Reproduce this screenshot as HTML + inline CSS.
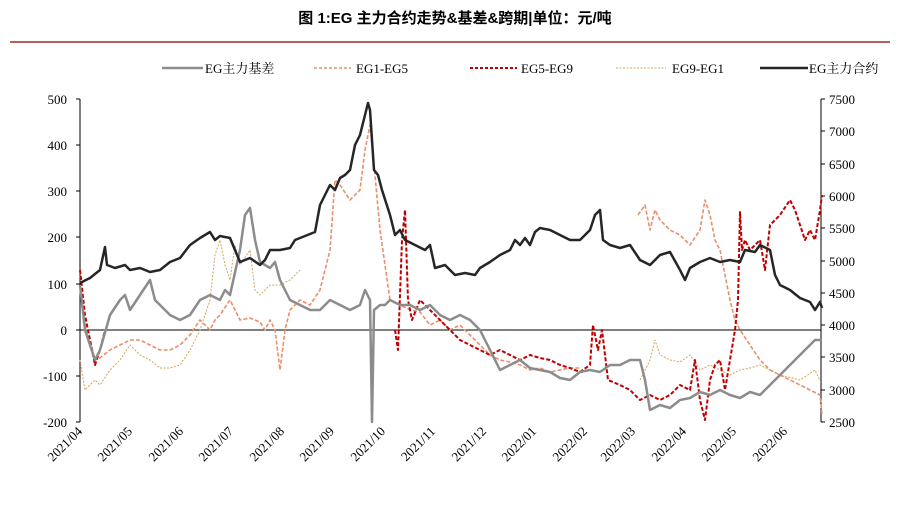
<!DOCTYPE html>
<html><head><meta charset="utf-8"><style>
body{margin:0;background:#fff;width:913px;height:500px;overflow:hidden}
text{font-family:"Liberation Serif","Noto Serif CJK SC",serif;font-size:13px;fill:#000}
</style></head><body>
<svg width="913" height="500" viewBox="0 0 913 500">
<text x="455" y="23" text-anchor="middle" style="font-family:'Liberation Sans','Noto Sans CJK SC',sans-serif;font-weight:bold;font-size:15px">图 1:EG 主力合约走势&amp;基差&amp;跨期|单位：元/吨</text>
<line x1="10" y1="42" x2="890" y2="42" stroke="#b5615e" stroke-width="2"/>
<!-- legend -->
<line x1="162" y1="68" x2="203" y2="68" stroke="#8c8c8c" stroke-width="2.5"/><text x="205" y="73">EG主力基差</text>
<line x1="314" y1="68" x2="351" y2="68" stroke="#e8906b" stroke-width="1.5" stroke-dasharray="3,2"/><text x="356" y="73">EG1-EG5</text>
<line x1="470" y1="68" x2="517" y2="68" stroke="#c00000" stroke-width="2" stroke-dasharray="3,2"/><text x="521" y="73">EG5-EG9</text>
<line x1="616" y1="68" x2="666" y2="68" stroke="#d4a55a" stroke-width="1" stroke-dasharray="2,1.5"/><text x="672" y="73">EG9-EG1</text>
<line x1="760" y1="68" x2="808" y2="68" stroke="#262626" stroke-width="2.5"/><text x="809" y="73">EG主力合约</text>
<!-- axes -->
<g stroke="#000" stroke-width="1" fill="none">
<line x1="80" y1="99" x2="80" y2="422"/>
<line x1="76" y1="99" x2="80" y2="99"/><line x1="76" y1="145" x2="80" y2="145"/><line x1="76" y1="191" x2="80" y2="191"/><line x1="76" y1="237" x2="80" y2="237"/><line x1="76" y1="284" x2="80" y2="284"/><line x1="76" y1="330" x2="80" y2="330"/><line x1="76" y1="376" x2="80" y2="376"/><line x1="76" y1="422" x2="80" y2="422"/>
<line x1="821" y1="99" x2="821" y2="422"/>
<line x1="821" y1="99" x2="825" y2="99"/><line x1="821" y1="131" x2="825" y2="131"/><line x1="821" y1="164" x2="825" y2="164"/><line x1="821" y1="196" x2="825" y2="196"/><line x1="821" y1="228" x2="825" y2="228"/><line x1="821" y1="261" x2="825" y2="261"/><line x1="821" y1="293" x2="825" y2="293"/><line x1="821" y1="325" x2="825" y2="325"/><line x1="821" y1="357" x2="825" y2="357"/><line x1="821" y1="390" x2="825" y2="390"/><line x1="821" y1="422" x2="825" y2="422"/>
<line x1="80" y1="330" x2="821" y2="330"/>
</g>
<g text-anchor="end">
<text x="67" y="104">500</text><text x="67" y="150">400</text><text x="67" y="196">300</text><text x="67" y="242">200</text><text x="67" y="289">100</text><text x="67" y="335">0</text><text x="67" y="381">-100</text><text x="67" y="427">-200</text>
</g>
<g>
<text x="829" y="104">7500</text><text x="829" y="136">7000</text><text x="829" y="169">6500</text><text x="829" y="201">6000</text><text x="829" y="233">5500</text><text x="829" y="266">5000</text><text x="829" y="298">4500</text><text x="829" y="330">4000</text><text x="829" y="362">3500</text><text x="829" y="395">3000</text><text x="829" y="427">2500</text>
</g>
<!-- x labels -->
<g text-anchor="end">
<text transform="translate(83,432) rotate(-45)">2021/04</text>
<text transform="translate(133,432) rotate(-45)">2021/05</text>
<text transform="translate(184,432) rotate(-45)">2021/06</text>
<text transform="translate(234,432) rotate(-45)">2021/07</text>
<text transform="translate(285,432) rotate(-45)">2021/08</text>
<text transform="translate(335,432) rotate(-45)">2021/09</text>
<text transform="translate(386,432) rotate(-45)">2021/10</text>
<text transform="translate(436,432) rotate(-45)">2021/11</text>
<text transform="translate(487,432) rotate(-45)">2021/12</text>
<text transform="translate(537,432) rotate(-45)">2022/01</text>
<text transform="translate(588,432) rotate(-45)">2022/02</text>
<text transform="translate(636,432) rotate(-45)">2022/03</text>
<text transform="translate(687,432) rotate(-45)">2022/04</text>
<text transform="translate(737,432) rotate(-45)">2022/05</text>
<text transform="translate(788,432) rotate(-45)">2022/06</text>
</g>
<g fill="none" stroke-linejoin="round">
<polyline stroke="#d4a55a" stroke-width="1" stroke-dasharray="2,1.5" points="80,360 85,390 95,380 100,385 110,370 120,360 130,345 140,355 150,360 160,368 170,368 180,365 190,350 200,330 210,300 215,255 220,240 225,265 230,280 235,245 240,265 250,250 255,290 260,295 270,285 280,285 290,280 300,270"/>
<polyline stroke="#d4a55a" stroke-width="1" stroke-dasharray="2,1.5" points="640,380 650,360 655,340 660,355 670,360 680,362 690,355 700,370 710,365 720,370 730,375 740,370 750,368 760,365 770,370 780,375 800,380 815,370 822,385"/>
<polyline stroke="#e8906b" stroke-width="1.6" stroke-dasharray="4,2" points="80,270 85,320 95,360 100,358 110,350 120,345 130,340 140,340 150,345 160,350 170,350 180,345 190,335 200,320 210,330 215,320 220,315 230,300 240,320 250,318 260,322 265,330 270,320 275,330 280,370 285,330 290,310 300,300 310,305 320,290 330,250 335,180 340,185 350,200 360,190 365,150 370,125 375,175 380,230 385,265 390,300 400,305 410,310 420,312 430,325 440,320 450,330 460,325 470,335 480,345 490,355 500,360 510,362 520,365 530,370 540,368 550,372 560,370 570,368 580,368"/>
<polyline stroke="#e8906b" stroke-width="1.6" stroke-dasharray="4,2" points="638,215 645,205 650,230 655,210 660,220 670,230 680,235 690,245 700,230 705,200 710,215 715,240 720,250 730,300 735,320 740,330 750,345 760,360 770,370 780,375 790,380 800,385 810,390 820,395 822,415"/>
<polyline stroke="#c00000" stroke-width="2" stroke-dasharray="4,2" points="80,270 85,315 90,340 95,365 100,350 105,330"/>
<polyline stroke="#c00000" stroke-width="2" stroke-dasharray="4,2" points="395,330 398,350 402,240 405,210 408,300 412,320 420,300 430,310 440,320 450,330 460,340 470,345 480,350 490,355 500,350 510,355 520,360 530,355 540,358 550,360 560,365 570,368 580,372 590,365 593,325 598,350 602,330 608,380 620,385 630,390 640,400 650,395 660,400 670,395 680,385 690,390 695,360 700,400 705,420 710,380 715,365 720,360 725,390 730,360 735,330 738,300 740,212 742,250 745,240 750,250 760,240 765,270 770,225 775,220 780,215 790,200 795,210 800,225 805,240 810,230 815,240 820,210 822,195"/>
<polyline stroke="#8c8c8c" stroke-width="2.5" points="80,285 85,330 95,360 100,350 110,315 120,300 125,295 130,310 140,295 150,280 155,300 160,305 170,315 180,320 190,315 200,300 210,295 220,300 225,290 230,295 240,250 245,215 250,208 255,240 260,262 270,268 275,262 280,280 290,300 300,305 310,310 320,310 330,300 340,305 350,310 360,305 365,290 370,300 372,422 374,310 380,305 385,305 390,300 400,305 410,305 420,310 430,305 440,315 450,320 460,315 470,320 480,330 490,350 500,370 510,365 520,360 530,368 540,370 550,372 560,378 570,380 580,372 590,370 600,372 610,365 620,365 630,360 640,360 645,380 650,410 660,405 670,408 680,400 690,398 700,392 710,395 720,390 730,395 740,398 750,392 760,395 770,385 780,375 790,365 800,355 810,345 815,340 822,340"/>
<polyline stroke="#262626" stroke-width="2.5" points="80,283 90,278 100,270 105,247 107,265 115,268 125,265 130,270 140,268 150,272 160,270 170,262 180,258 190,245 200,238 210,232 215,240 220,236 230,238 235,250 240,262 250,258 260,265 265,260 270,250 280,250 290,248 295,240 305,236 315,232 320,205 325,195 330,185 335,190 340,178 345,175 350,170 355,145 360,135 365,115 368,103 370,110 374,170 378,175 382,190 390,215 395,235 400,230 405,240 415,245 425,250 430,245 435,268 445,265 455,275 465,273 475,275 480,268 490,262 500,255 510,250 515,240 520,245 525,238 530,245 535,232 540,228 550,230 560,235 570,240 580,240 590,230 595,215 600,210 603,240 610,245 620,248 630,245 640,260 650,265 660,255 670,252 680,270 685,280 690,268 700,262 710,258 720,262 730,260 740,262 745,250 755,252 760,245 770,250 775,275 780,285 790,290 800,298 810,302 815,310 820,302 822,308"/>
</g>
</svg>
</body></html>
